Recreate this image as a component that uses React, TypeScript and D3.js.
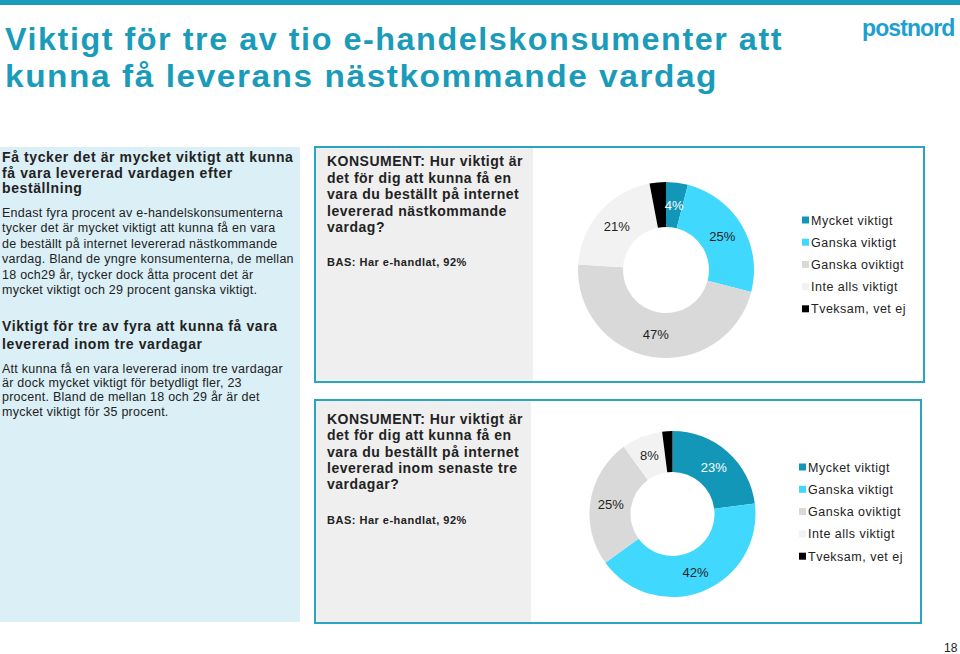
import React from "react";
import * as d3 from "d3";

const categories = ["Mycket viktigt", "Ganska viktigt", "Ganska oviktigt", "Inte alls viktigt", "Tveksam, vet ej"];
const nextDayValues = [4, 25, 47, 21, 3];
const threeDayValues = [23, 42, 25, 8, 2];
const sliceColors = ["#1397b8", "#40d8fc", "#d9d9d9", "#f2f2f2", "#000000"];
const labelColors = ["#ffffff", "#222222", "#222222", "#222222", "#222222"];

const titleLines = ["Viktigt för tre av tio e-handelskonsumenter att", "kunna få leverans nästkommande vardag"];
const block1Heading = ["Få tycker det är mycket viktigt att kunna", "få vara levererad vardagen efter", "beställning"];
const block1Body = [
  "Endast fyra procent av e-handelskonsumenterna",
  "tycker det är mycket viktigt att kunna få en vara",
  "de beställt på internet levererad nästkommande",
  "vardag. Bland de yngre konsumenterna, de mellan",
  "18 och29 år, tycker dock åtta procent det är",
  "mycket viktigt och 29 procent ganska viktigt.",
];
const block2Heading = ["Viktigt för tre av fyra att kunna få vara", "levererad inom tre vardagar"];
const block2Body = [
  "Att kunna få en vara levererad inom tre vardagar",
  "är dock mycket viktigt för betydligt fler, 23",
  "procent. Bland de mellan 18 och 29 år är det",
  "mycket viktigt för 35 procent.",
];
const question1 = ["KONSUMENT: Hur viktigt är", "det för dig att kunna få en", "vara du beställt på internet", "levererad nästkommande", "vardag?"];
const question2 = ["KONSUMENT: Hur viktigt är", "det för dig att kunna få en", "vara du beställt på internet", "levererad inom senaste tre", "vardagar?"];
const baseText = "BAS: Har e-handlat, 92%";

const FONT = "'Liberation Sans', Arial, Helvetica, sans-serif";
const TEAL = "#1b9bba";
const BORDER = "#2ba4c2";

function Donut({ values, cx, cy, outer, inner }: { values: number[]; cx: number; cy: number; outer: number; inner: number }) {
  const pie = d3.pie<number>().sort(null).value((d) => d);
  const arcs = pie(values);
  const arc = d3.arc<d3.PieArcDatum<number>>().innerRadius(inner).outerRadius(outer);
  return (
    <g transform={`translate(${cx},${cy})`}>
      {arcs.map((a, i) => (
        <path key={i} d={arc(a) || ""} fill={sliceColors[i]} />
      ))}
      {arcs.map((a, i) => {
        if (i === 4) return null;
        const [x, y] = arc.centroid(a);
        return (
          <text key={"l" + i} x={x} y={y + 4.5} textAnchor="middle" fontSize={13} fill={labelColors[i]} fontFamily={FONT}>
            {`${values[i]}%`}
          </text>
        );
      })}
    </g>
  );
}

function Legend({ x, y, step }: { x: number; y: number; step: number }) {
  return (
    <g>
      {categories.map((c, i) => (
        <g key={c} transform={`translate(${x},${y + i * step})`}>
          <rect x={0} y={-3.5} width={7} height={7} fill={sliceColors[i]} />
          <text x={9} y={4.5} fontSize={12.5} letterSpacing={0.5} fill="#222" fontFamily={FONT}>
            {c}
          </text>
        </g>
      ))}
    </g>
  );
}

function Lines({ lines, x, y0, step, size, bold, spacing }: { lines: string[]; x: number; y0: number; step: number; size: number; bold?: boolean; spacing: number }) {
  return (
    <g>
      {lines.map((l, i) => (
        <text key={i} x={x} y={y0 + i * step} fontSize={size} fontWeight={bold ? "bold" : "normal"} letterSpacing={spacing} fill="#222" fontFamily={FONT}>
          {l}
        </text>
      ))}
    </g>
  );
}

export default function App() {
  return (
    <svg width={960} height={654} style={{ position: "absolute", left: 0, top: 0, background: "#fff" }} fontFamily={FONT}>
      <rect x={0} y={0} width={960} height={654} fill="#fff" />
      <rect x={0} y={0} width={960} height={5} fill={TEAL} />
      <text x={5} y={50} fontSize={32} fontWeight="bold" fill={TEAL} letterSpacing={1.5} textLength={778} lengthAdjust="spacingAndGlyphs">
        {titleLines[0]}
      </text>
      <text x={5} y={87} fontSize={32} fontWeight="bold" fill={TEAL} letterSpacing={1.5} textLength={713} lengthAdjust="spacingAndGlyphs">
        {titleLines[1]}
      </text>
      <text x={862} y={36} fontSize={23} fontWeight={900} fill="#1e9fd0" letterSpacing={-0.9}>
        postnord
      </text>

      <rect x={0} y={147} width={300} height={475} fill="#dbeff6" />
      <Lines lines={block1Heading} x={2} y0={162} step={15.5} size={14} bold spacing={0.6} />
      <Lines lines={block1Body} x={2} y0={217} step={15.4} size={12.5} spacing={0.25} />
      <Lines lines={block2Heading} x={2} y0={331} step={18} size={14} bold spacing={0.6} />
      <Lines lines={block2Body} x={2} y0={373} step={14.2} size={12.5} spacing={0.25} />

      <rect x={316} y={148} width={217} height={233} fill="#efefef" />
      <rect x={315} y={147} width={609} height={235} fill="none" stroke={BORDER} strokeWidth={2} />
      <Lines lines={question1} x={327} y0={166} step={16.5} size={14} bold spacing={0.5} />
      <Lines lines={[baseText]} x={327} y0={266} step={0} size={11} bold spacing={0.5} />
      <Donut values={nextDayValues} cx={666} cy={270} outer={88} inner={43} />
      <Legend x={802} y={220} step={22.2} />

      <rect x={316} y={401} width={215} height={221} fill="#efefef" />
      <rect x={315} y={400} width={606} height={223} fill="none" stroke={BORDER} strokeWidth={2} />
      <Lines lines={question2} x={327} y0={424} step={16.3} size={14} bold spacing={0.5} />
      <Lines lines={[baseText]} x={327} y0={524} step={0} size={11} bold spacing={0.5} />
      <Donut values={threeDayValues} cx={672.5} cy={514} outer={83} inner={42} />
      <Legend x={799} y={467} step={22.3} />

      <text x={944} y={652} fontSize={12} fill="#222">
        18
      </text>
    </svg>
  );
}
